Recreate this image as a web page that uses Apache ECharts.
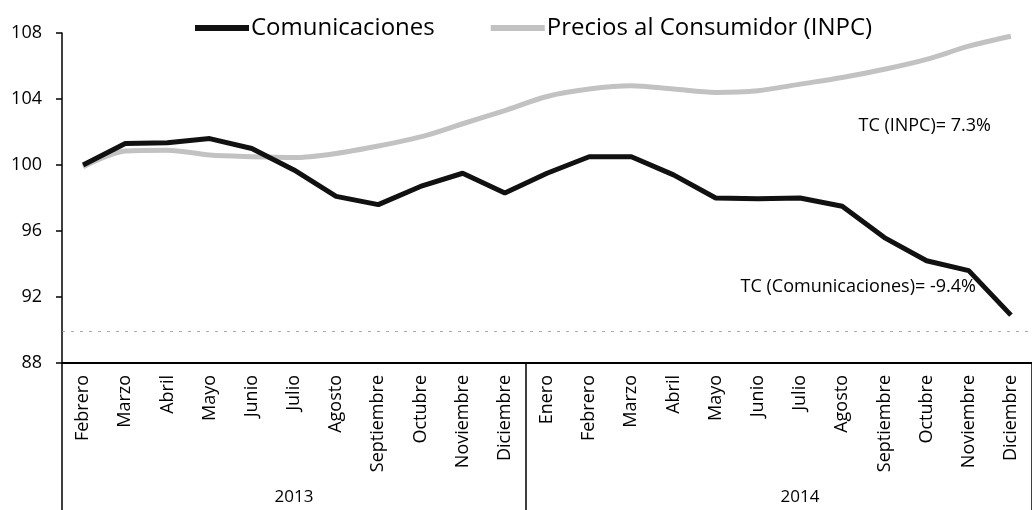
<!DOCTYPE html>
<html>
<head>
<meta charset="utf-8">
<script src="https://cdn.jsdelivr.net/npm/echarts@6/dist/echarts.min.js"></script>
<style>
  html, body { margin: 0; padding: 0; background: #fff; }
  #chart { width: 1032px; height: 510px; }
</style>
</head>
<body>
<div id="chart"></div>
<script>
    // meses (feb 2013 - dic 2014)
    var months = ['Febrero', 'Marzo', 'Abril', 'Mayo', 'Junio', 'Julio', 'Agosto', 'Septiembre', 'Octubre', 'Noviembre', 'Diciembre',
        'Enero', 'Febrero', 'Marzo', 'Abril', 'Mayo', 'Junio', 'Julio', 'Agosto', 'Septiembre', 'Octubre', 'Noviembre', 'Diciembre'];
    var yearOfMonth = ['2013', '2013', '2013', '2013', '2013', '2013', '2013', '2013', '2013', '2013', '2013',
        '2014', '2014', '2014', '2014', '2014', '2014', '2014', '2014', '2014', '2014', '2014', '2014'];
    var comunicaciones = [100.0, 101.3, 101.35, 101.6, 101.0, 99.7, 98.1, 97.6, 98.7, 99.5, 98.3,
        99.5, 100.5, 100.5, 99.4, 98.0, 97.95, 98.0, 97.5, 95.6, 94.2, 93.6, 90.9];
    var inpc = [99.9, 100.85, 100.9, 100.6, 100.5, 100.45, 100.7, 101.15, 101.7, 102.5, 103.3,
        104.15, 104.6, 104.8, 104.6, 104.4, 104.5, 104.9, 105.3, 105.8, 106.4, 107.2, 107.8];
    var yTicks = { min: 88, max: 108, step: 4 };
    var labelInpc = 'TC (INPC)= 7.3%';
    var labelCom = 'TC (Comunicaciones)= -9.4%';

    var font = '"Open Sans", sans-serif';
    var chart = echarts.init(document.getElementById('chart'));

    var option = {
        animation: false,
        backgroundColor: '#fff',
        textStyle: { fontFamily: font, color: '#000' },
        legend: {
            top: 11,
            left: 190,
            itemWidth: 54,
            itemHeight: 6,
            itemGap: 56,
            textStyle: { fontSize: 24, color: '#000', fontFamily: font, padding: [0, 0, 0, -3] },
            data: [
                { name: 'Comunicaciones', icon: 'rect' },
                { name: 'Precios al Consumidor (INPC)', icon: 'rect' }
            ]
        },
        grid: { left: 62, top: 33, width: 982, bottom: 147, containLabel: false },
        xAxis: [{
            type: 'category',
            data: months,
            boundaryGap: true,
            axisLine: { lineStyle: { color: '#000', width: 2 } },
            axisTick: { show: false },
            axisLabel: { rotate: 90, fontSize: 18, color: '#000', margin: 12, interval: 0, fontFamily: font }
        }, {
            type: 'category',
            data: yearOfMonth,
            position: 'bottom',
            boundaryGap: true,
            axisLine: { show: false },
            axisTick: {
                show: true,
                length: 150,
                interval: function (i) { return i === 0 || i === 11; },
                lineStyle: { color: '#000', width: 1.5 }
            },
            axisLabel: {
                interval: function (i) { return i === 5 || i === 17; },
                margin: 126,
                fontSize: 17,
                color: '#000',
                fontFamily: font
            }
        }],
        yAxis: {
            type: 'value',
            min: yTicks.min,
            max: yTicks.max,
            interval: yTicks.step,
            axisLine: { show: true, lineStyle: { color: '#000', width: 1.5 } },
            axisTick: { show: true, length: 6, lineStyle: { color: '#000', width: 1.5 } },
            axisLabel: { fontSize: 18, color: '#000', margin: 20, fontFamily: font },
            splitLine: { show: false }
        },
        series: [{
            name: 'Comunicaciones',
            type: 'line',
            data: comunicaciones,
            showSymbol: false,
            symbol: 'none',
            lineStyle: { color: '#111', width: 5 },
            itemStyle: { color: '#111' },
            z: 3,
            endLabel: {
                show: true,
                formatter: labelCom,
                fontSize: 18,
                color: '#000',
                fontFamily: font,
                align: 'right',
                verticalAlign: 'middle',
                distance: 0,
                offset: [-35, -28]
            },
            markLine: {
                silent: true,
                symbol: 'none',
                label: { show: false },
                lineStyle: { color: '#888', type: [3, 6], width: 1, opacity: 0.7 },
                data: [{ yAxis: 89.9 }]
            }
        }, {
            name: 'Precios al Consumidor (INPC)',
            type: 'line',
            data: inpc,
            showSymbol: false,
            symbol: 'none',
            smooth: 0.3,
            lineStyle: { color: '#c2c2c2', width: 5 },
            itemStyle: { color: '#c2c2c2' },
            z: 2,
            endLabel: {
                show: true,
                formatter: labelInpc,
                fontSize: 18,
                color: '#000',
                fontFamily: font,
                align: 'right',
                verticalAlign: 'middle',
                distance: 0,
                offset: [-20, 90]
            }
        }]
    };

    chart.setOption(option);
</script>
</body>
</html>
